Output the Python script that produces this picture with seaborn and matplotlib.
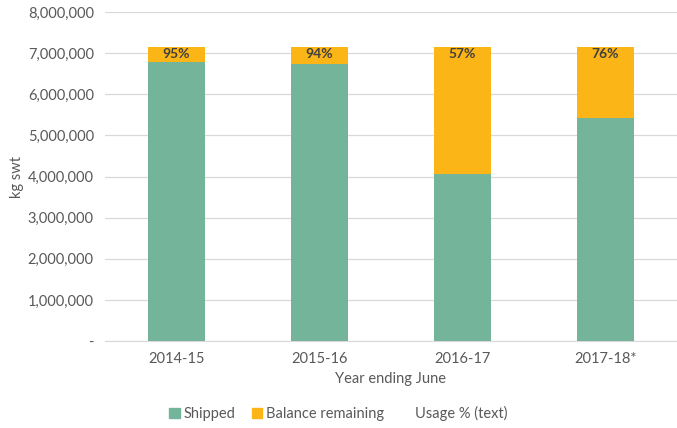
import pandas as pd
import numpy as np
import matplotlib.pyplot as plt
import seaborn as sns
from matplotlib.patches import Patch
from matplotlib.ticker import FuncFormatter

# Data
years = ['2014-15', '2015-16', '2016-17', '2017-18*']
quota = [7150000, 7150000, 7150000, 7150000]
shipped = [6790000, 6740000, 4050000, 5430000]
usage_labels = ['95%', '94%', '57%', '76%']

df = pd.DataFrame({'year': years, 'quota': quota, 'shipped': shipped})

green = '#74B49B'
orange = '#FBB516'
grey = '#595959'

sns.set_style('white')
plt.rcParams['font.family'] = ['Lato', 'DejaVu Sans']

fig = plt.figure(figsize=(6.77, 4.28), dpi=100)
ax = fig.add_axes([0.155, 0.203, 0.845, 0.769])

# Stacked look: full quota in orange, shipped drawn over it in green
sns.barplot(data=df, x='year', y='quota', color=orange, width=0.4,
            saturation=1, linewidth=0, ax=ax, zorder=2)
sns.barplot(data=df, x='year', y='shipped', color=green, width=0.4,
            saturation=1, linewidth=0, ax=ax, zorder=3)

for i, lab in enumerate(usage_labels):
    ax.annotate(lab, (i, df['quota'][i]), xytext=(0, -1), textcoords='offset points',
                ha='center', va='top', fontsize=10, fontweight='bold', color='#404040',
                zorder=4)

ax.set_ylim(0, 8000000)
ax.set_yticks(np.arange(0, 8000001, 1000000))
ax.yaxis.set_major_formatter(FuncFormatter(lambda v, p: '-' if v == 0 else f'{int(v):,}'))
ax.grid(axis='y', color='#D9D9D9', linewidth=0.9, zorder=0)
ax.set_axisbelow(True)
for s in ['top', 'right', 'left']:
    ax.spines[s].set_visible(False)
ax.spines['bottom'].set_color('#D9D9D9')
ax.tick_params(axis='both', length=0, labelsize=10.5, colors=grey, pad=8)
ax.set_xlabel('Year ending June', fontsize=10.5, color=grey, labelpad=4)
ax.set_ylabel('kg swt', fontsize=10.5, color=grey, labelpad=3)

handles = [Patch(color=green, label='Shipped'),
           Patch(color=orange, label='Balance remaining'),
           Patch(color='none', label='Usage % (text)')]
fig.legend(handles=handles, loc='lower center', ncol=3, frameon=False,
           fontsize=10.5, labelcolor=grey, handlelength=0.7, handleheight=0.7,
           handletextpad=0.3, columnspacing=1.1, bbox_to_anchor=(0.5, -0.015))

fig.savefig('out.png', dpi=100)
